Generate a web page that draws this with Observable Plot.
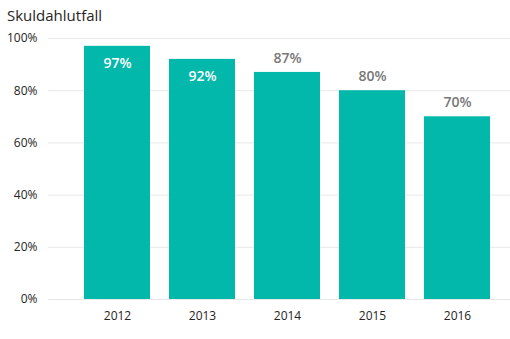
<!DOCTYPE html>
<html><head><meta charset="utf-8">
<script src="https://cdn.jsdelivr.net/npm/d3@7"></script>
<script src="https://cdn.jsdelivr.net/npm/@observablehq/plot@0.6"></script>
<style>
body{margin:0;background:#fff;font-family:"Open Sans",sans-serif;}
#title{height:30px;box-sizing:border-box;padding:4px 0 0 7px;font-size:15px;color:#252423;line-height:22px;}
</style></head><body>
<div id="title">Skuldahlutfall</div>
<div id="chart"></div>
<script>
const years = ["2012","2013","2014","2015","2016"];
const values = [0.97, 0.92, 0.87, 0.80, 0.70];
const yTicks = [0, 0.2, 0.4, 0.6, 0.8, 1.0];
const data = years.map((y,i)=>({year:y, value:values[i]}));
const fmt = d => Math.round(d*100) + "%";
const chart = Plot.plot({
  width: 510, height: 309,
  marginLeft: 48, marginRight: 0, marginTop: 8, marginBottom: 40,
  style: {fontFamily: '"Open Sans", sans-serif', fontSize: "12px", color: "#252423", background: "#fff"},
  x: {domain: years, range: [64, 509], padding: 0.225, label: null, tickSize: 0, tickPadding: 12},
  y: {domain: [0, 1], ticks: yTicks, tickFormat: fmt, label: null, tickSize: 0, tickPadding: 11},
  marks: [
    Plot.ruleY(yTicks, {stroke: "#e8e8e8", strokeWidth: 1}),
    Plot.barY(data, {x: "year", y: "value", fill: "#01B8AA"}),
    Plot.text(data.filter(d => d.value >= 0.9), {x: "year", y: "value", text: d => fmt(d.value), dy: 17, fill: "white", fontWeight: 600, fontSize: 14}),
    Plot.text(data.filter(d => d.value < 0.9), {x: "year", y: "value", text: d => fmt(d.value), dy: -14, fill: "#777", fontWeight: 600, fontSize: 14})
  ]
});
document.getElementById("chart").appendChild(chart);
</script></body></html>
